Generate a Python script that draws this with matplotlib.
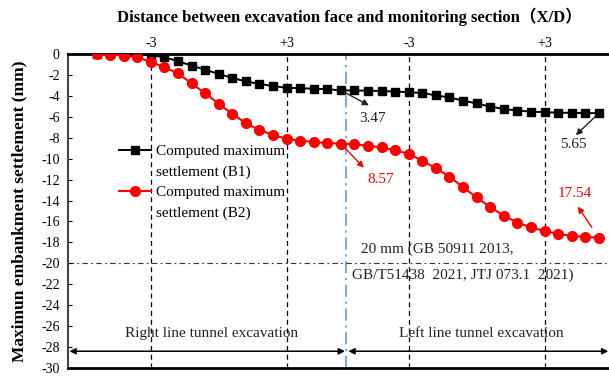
import matplotlib
matplotlib.use("Agg")
import matplotlib.pyplot as plt
from matplotlib.lines import Line2D

# step index along the excavation (one point per monitoring step)
steps = list(range(38))

b1 = [0, 0, 0, -0.02, -0.12, -0.3, -0.68, -1.1, -1.5, -1.9,
      -2.28, -2.62, -2.85, -3.06, -3.22, -3.27, -3.31, -3.36, -3.47, -3.48,
      -3.5, -3.53, -3.58, -3.65, -3.72, -3.95, -4.15, -4.45, -4.72, -5.02,
      -5.25, -5.4, -5.5, -5.56, -5.6, -5.62, -5.64, -5.65]

b2 = [0, -0.05, -0.15, -0.3, -0.75, -1.25, -1.85, -2.8, -3.75, -4.75,
      -5.72, -6.6, -7.25, -7.73, -8.1, -8.27, -8.4, -8.5, -8.57, -8.62,
      -8.77, -8.92, -9.18, -9.55, -10.2, -10.92, -11.72, -12.72, -13.7, -14.62,
      -15.45, -16.1, -16.57, -16.9, -17.2, -17.37, -17.49, -17.54]

face_steps = [4, 14, 23, 33]
face_labels = ["-3", "+3", "-3", "+3"]
switch_step = 18.4          # right line finished, left line starts
limit = -20
yticks = list(range(0, -31, -2))

serif = ["Liberation Serif", "Noto Sans CJK SC"]
plt.rcParams["font.family"] = serif

fig = plt.figure(figsize=(6.09, 3.78), dpi=100)
ax = fig.add_axes([0.1117, 0.0265, 0.8883, 0.8305])

# guide lines
for s in face_steps:
    ax.axvline(s, color="black", linestyle=(0, (4, 3)), linewidth=0.9, zorder=1)
ax.axvline(switch_step, color="#4a9bd8", linestyle=(0, (8, 3, 1.5, 3)), linewidth=1.1, zorder=1)
ax.axhline(limit, color="#333333", linestyle=(0, (5, 3, 1.5, 3)), linewidth=0.8, zorder=1)

l1, = ax.plot(steps, b1, color="black", marker="s", markersize=5.2, linewidth=1.4, zorder=3)
l2, = ax.plot(steps, b2, color="red", marker="o", markersize=7, linewidth=1.5, zorder=3)

# value call-outs (arrow head points at the label)
def callout(k, vals, txt, col, head, text_off, shrink=3):
    ax.annotate("", xy=(k, vals[k]), xytext=head, textcoords="offset pixels",
                arrowprops=dict(arrowstyle="<|-", color=col, lw=1.0,
                                shrinkA=0, shrinkB=shrink, mutation_scale=9))
    ax.annotate(txt, xy=(k, vals[k]), xytext=text_off, textcoords="offset pixels",
                ha="center", va="center", color=col, fontsize=11)

callout(18, b1, "3.47", "#222222", (28, -15), (32, -28))
callout(37, b1, "5.65", "#222222", (-23, -22), (-25, -31))
callout(18, b2, "8.57", "red", (23, -24), (40, -36))
callout(37, b2, "17.54", "red", (-21, 31), (-24, 44), shrink=9)

ax.text(19.5, -18.7, "20 mm (GB 50911 2013,", fontsize=11, ha="left", va="center", color="#222222")
ax.text(18.8, -21.1, "GB/T51438  2021, JTJ 073.1  2021)", fontsize=11, ha="left", va="center", color="#222222")

# excavation stage arrows
xmin, xmax = -2.1, 37.75
arrow_y = -28.4
for a, b in [(xmin + 0.1, switch_step - 0.1), (switch_step + 0.15, xmax - 0.05)]:
    ax.annotate("", xy=(b, arrow_y), xytext=(a, arrow_y),
                arrowprops=dict(arrowstyle="<|-|>", color="black", lw=1.1,
                                shrinkA=0, shrinkB=0, mutation_scale=9))
ax.text((xmin + switch_step) / 2 + 0.3, -26.75, "Right line tunnel excavation",
        fontsize=11, ha="center", va="center", color="#222222")
ax.text((switch_step + xmax) / 2 + 0.25, -26.75, "Left line tunnel excavation",
        fontsize=11, ha="center", va="center", color="#222222")

ax.set_xlim(xmin, xmax)
ax.set_ylim(-30, 0)
ax.set_yticks(yticks)
ax.set_yticklabels([str(v) for v in yticks])
ax.tick_params(axis="y", direction="in", length=3, labelsize=10, pad=6)

ax.xaxis.tick_top()
ax.xaxis.set_label_position("top")
ax.set_xticks(face_steps)
ax.set_xticklabels(face_labels)
ax.tick_params(axis="x", length=0, labelsize=10, pad=3)
ax.set_xlabel("Distance between excavation face and monitoring section（X/D）",
              fontsize=12, fontweight="bold", labelpad=11)
ax.xaxis.label.set_x(0.52)
ax.set_ylabel("Maximun embankment settlement (mm)", fontsize=12.5, fontweight="bold", labelpad=10)

for side in ["top", "bottom"]:
    ax.spines[side].set_linewidth(2)
ax.spines["left"].set_linewidth(1.5)
ax.spines["left"].set_color("#444444")
ax.spines["right"].set_visible(False)

# legend: handle sits on the first line of each two-line label
blank = Line2D([], [], linestyle="none")
ax.legend([l1, blank, l2, blank],
          ["Computed maximum", "settlement (B1)", "Computed maximum", "settlement (B2)"],
          loc="upper left", bbox_to_anchor=(0.08, 0.737), frameon=False,
          fontsize=11, handlelength=2.1, handletextpad=0.35, borderpad=0,
          labelspacing=0.44)

fig.savefig("out.png", dpi=100)
